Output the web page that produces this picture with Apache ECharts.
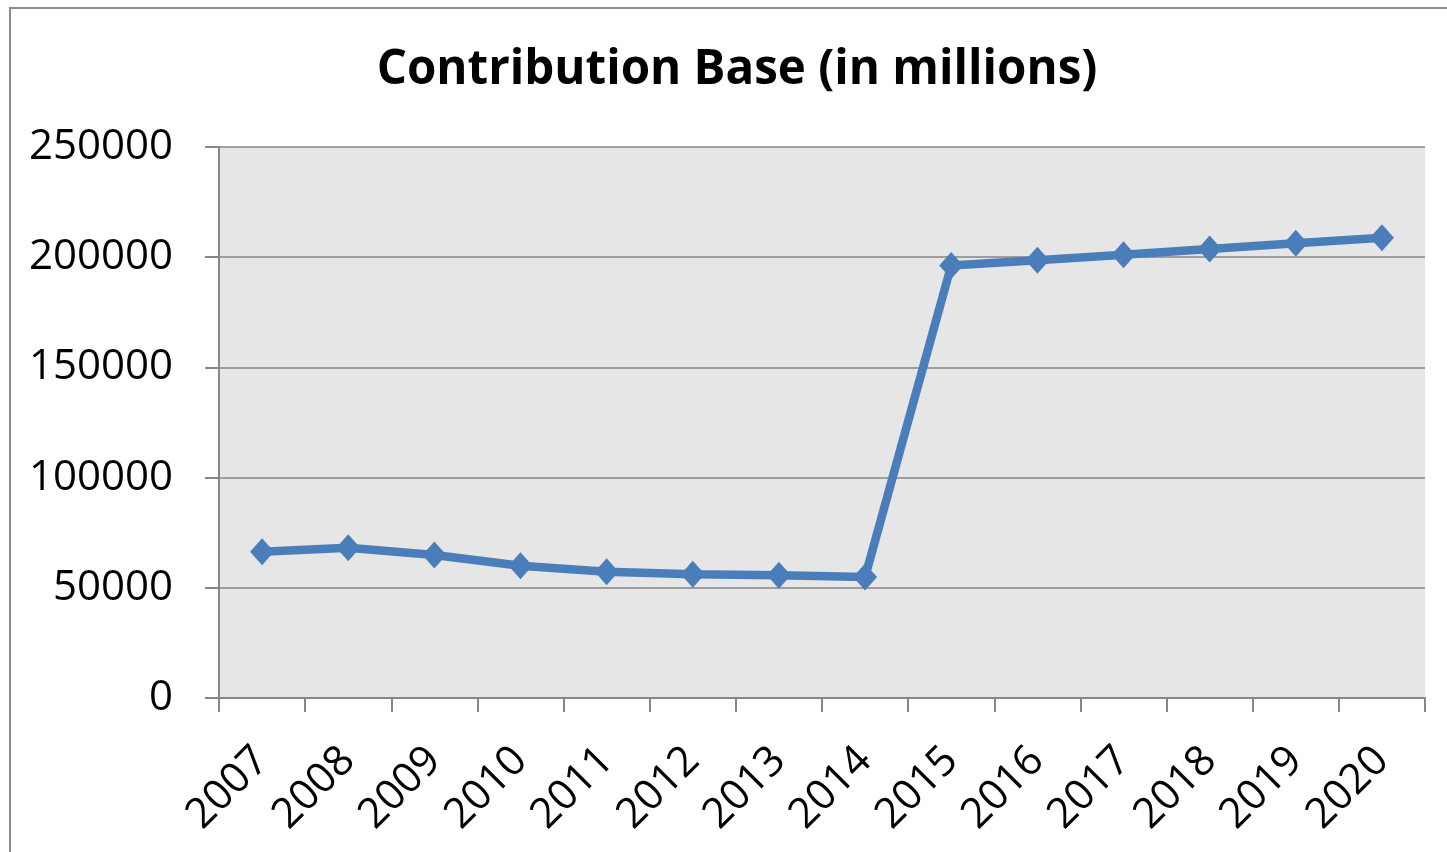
<!DOCTYPE html>
<html>
<head>
<meta charset="utf-8">
<style>
  html, body { margin: 0; padding: 0; background: #ffffff; }
  #chart { width: 1447px; height: 852px; }
</style>
<script src="https://cdn.jsdelivr.net/npm/echarts@6/dist/echarts.min.js"></script>
</head>
<body>
<div id="chart"></div>
<script>
// Contribution base per year, in millions
const years = ['2007', '2008', '2009', '2010', '2011', '2012', '2013',
               '2014', '2015', '2016', '2017', '2018', '2019', '2020'];
const contributionBase = [66400, 68200, 64900, 60000, 57300, 56100, 55700,
                          54900, 196200, 198600, 201100, 203700, 206300, 208800];
const yTicks = { min: 0, max: 250000, interval: 50000 };

const chart = echarts.init(document.getElementById('chart'), null, { renderer: 'canvas' });

const axisGray = '#868686';
const labelFont = '"Open Sans", "Noto Sans", sans-serif';

chart.setOption({
  backgroundColor: '#ffffff',
  animation: false,
  title: {
    text: 'Contribution Base (in millions)',
    left: 732,
    textAlign: 'center',
    top: 41,
    textStyle: {
      fontFamily: labelFont,
      fontWeight: 'bold',
      fontSize: 47.5,
      color: '#000000'
    }
  },
  graphic: [{
    type: 'rect',
    shape: { x: 10, y: 8, width: 1460, height: 900 },
    style: { fill: 'none', stroke: '#8c8c8c', lineWidth: 2 },
    silent: true
  }],
  grid: {
    left: 219,
    right: 22,
    top: 147,
    bottom: 154,
    show: true,
    backgroundColor: '#e6e6e6',
    borderWidth: 0
  },
  xAxis: {
    type: 'category',
    data: years,
    boundaryGap: true,
    axisLine: { show: true, lineStyle: { color: axisGray, width: 2 } },
    axisTick: { show: true, length: 14, alignWithLabel: false, lineStyle: { color: axisGray, width: 2 } },
    axisLabel: {
      rotate: 45,
      margin: 56,
      fontFamily: labelFont,
      fontSize: 42,
      color: '#000000',
      interval: 0
    },
    splitLine: { show: false }
  },
  yAxis: {
    type: 'value',
    min: yTicks.min,
    max: yTicks.max,
    interval: yTicks.interval,
    axisLine: { show: true, lineStyle: { color: axisGray, width: 2 } },
    axisTick: { show: true, length: 14, lineStyle: { color: axisGray, width: 2 } },
    axisLabel: {
      margin: 46,
      fontFamily: labelFont,
      fontSize: 42,
      color: '#000000',
      formatter: (v) => String(v)
    },
    splitLine: { show: true, lineStyle: { color: axisGray, width: 1.5 } }
  },
  series: [{
    type: 'line',
    data: contributionBase,
    symbol: 'diamond',
    symbolSize: [24, 27],
    showAllSymbol: true,
    lineStyle: { color: '#4a7ebb', width: 8.5 },
    itemStyle: { color: '#4a7ebb' },
    z: 3
  }]
});
</script>
</body>
</html>
